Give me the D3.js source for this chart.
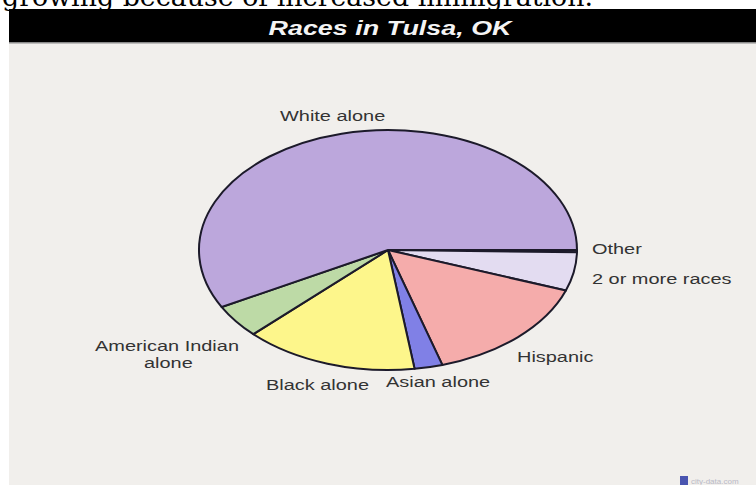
<!DOCTYPE html>
<html>
<head>
<meta charset="utf-8">
<script src="https://cdn.jsdelivr.net/npm/d3@7"></script>
<style>
  html, body { margin: 0; padding: 0; background: #ffffff; }
  svg { display: block; }
</style>
</head>
<body>
<svg id="chart" width="756" height="485"></svg>
<script>
// ---- data (percent of population) ----
const categories = ["Other", "2 or more races", "Hispanic", "Asian alone", "Black alone", "American Indian alone", "White alone"];
const values = [0.3, 5.2, 14.9, 2.4, 14.9, 4.5, 58.0];
const palette = ["#cfc3ea", "#e3dcf1", "#f5acab", "#8080e6", "#fdf68b", "#bddaa6", "#bca7dc"];
const chartTitle = "Races in Tulsa, OK";
const captionText = "growing because of increased immigration.";

// ---- layout (separate from data) ----
const W = 756, H = 485;
const cx = 388, cy = 250, rx = 189, ry = 120;
const labelLayout = {
  "White alone": [{x: 280, y: 121, t: "White alone"}],
  "Other": [{x: 592, y: 254, t: "Other"}],
  "2 or more races": [{x: 592, y: 284, t: "2 or more races"}],
  "Hispanic": [{x: 517, y: 362, t: "Hispanic"}],
  "Asian alone": [{x: 386, y: 387, t: "Asian alone"}],
  "Black alone": [{x: 266, y: 390, t: "Black alone"}],
  "American Indian alone": [{x: 95, y: 351, t: "American Indian"}, {x: 144, y: 368, t: "alone"}]
};

const svg = d3.select("#chart");

// page caption (cropped at top)
svg.append("text")
  .attr("x", 2).attr("y", 6)
  .attr("font-family", "DejaVu Serif, serif")
  .attr("font-size", 26)
  .attr("textLength", 591)
  .attr("lengthAdjust", "spacingAndGlyphs")
  .attr("fill", "#000")
  .text(captionText);

// chart background
svg.append("rect").attr("x", 9).attr("y", 42).attr("width", W - 9).attr("height", H - 42).attr("fill", "#f1efec");
// title bar
svg.append("rect").attr("x", 9).attr("y", 9).attr("width", W - 9).attr("height", 33).attr("fill", "#000");
svg.append("rect").attr("x", 9).attr("y", 42).attr("width", W - 9).attr("height", 1.5).attr("fill", "#8a8a8a");
svg.append("text")
  .attr("transform", "translate(390,35) scale(1.28,1)")
  .attr("text-anchor", "middle")
  .attr("font-family", "Liberation Sans, Arial, sans-serif")
  .attr("font-size", 21)
  .attr("font-weight", "bold")
  .attr("font-style", "italic")
  .attr("fill", "#f4f4f4")
  .text(chartTitle);

// pie
const data = categories.map((c, i) => ({cat: c, value: values[i], color: palette[i]}));
const pie = d3.pie().value(d => d.value).sort(null)
  .startAngle(Math.PI / 2).endAngle(Math.PI / 2 + 2 * Math.PI);
const arc = d3.arc().innerRadius(0).outerRadius(ry);

const g = svg.append("g").attr("transform", `translate(${cx},${cy}) scale(${rx / ry},1)`);
g.selectAll("path")
  .data(pie(data))
  .join("path")
  .attr("d", arc)
  .attr("fill", d => d.data.color)
  .attr("stroke", "#1c1a2a")
  .attr("stroke-width", 2)
  .attr("stroke-linejoin", "round")
  .attr("vector-effect", "non-scaling-stroke");

// labels
const labelG = svg.append("g");
categories.forEach(c => {
  (labelLayout[c] || []).forEach(l => {
    labelG.append("text")
      .attr("transform", `translate(${l.x},${l.y}) scale(1.33,1)`)
      .attr("font-family", "Liberation Sans, Arial, sans-serif")
      .attr("font-size", 15)
      .attr("fill", "#333")
      .text(l.t);
  });
});

// small watermark
svg.append("rect").attr("x", 680).attr("y", 476).attr("width", 8).attr("height", 9).attr("fill", "#4a55b0");
svg.append("text").attr("x", 691).attr("y", 484)
  .attr("font-family", "Liberation Sans, Arial, sans-serif")
  .attr("font-size", 8).attr("fill", "#b9b9c6").text("city-data.com");
</script>
</body>
</html>
